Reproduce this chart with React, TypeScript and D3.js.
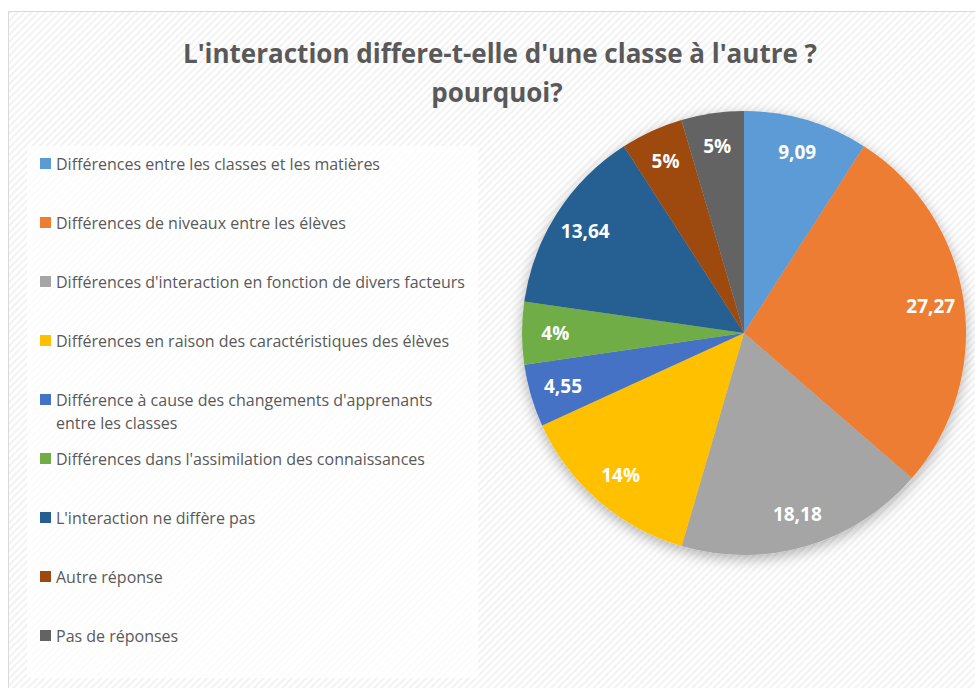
import React from "react";
import * as d3 from "d3";

const categories = [
  "Différences entre les classes et les matières",
  "Différences de niveaux entre les élèves",
  "Différences d'interaction en fonction de divers facteurs",
  "Différences en raison des caractéristiques des élèves",
  "Différence à cause des changements d'apprenants|entre les classes",
  "Différences dans l'assimilation des connaissances",
  "L'interaction ne diffère pas",
  "Autre réponse",
  "Pas de réponses",
];
const values = [9.09, 27.27, 18.18, 13.64, 4.55, 4.55, 13.64, 4.55, 4.55];
const labels = ["9,09", "27,27", "18,18", "14%", "4,55", "4%", "13,64", "5%", "5%"];
const colors = ["#5b9bd5", "#ed7d31", "#a5a5a5", "#ffc000", "#4472c4", "#70ad47", "#255e91", "#9e480e", "#636363"];

const W = 975;
const H = 688;
const font = "'Open Sans', sans-serif";

export default function App() {
  const cx = 744;
  const cy = 333;
  const r = 222;

  const pie = d3.pie<number>().sort(null).value((d) => d);
  const arcs = pie(values);
  const arc = d3.arc<d3.PieArcDatum<number>>().innerRadius(0).outerRadius(r);
  const labelArc = d3.arc<d3.PieArcDatum<number>>().innerRadius(r * 0.85).outerRadius(r * 0.85);

  // legend rows
  const legendY = d3.scaleLinear().domain([0, categories.length - 1]).range([164, 636]);

  return (
    <svg width={W} height={H} style={{ position: "absolute", left: 0, top: 0 }}>
      <defs>
        <pattern id="hatch" width="5" height="5" patternUnits="userSpaceOnUse" patternTransform="rotate(-45)">
          <rect width="5" height="5" fill="#ffffff" />
          <rect width="5" height="2" fill="#f2f2f2" />
        </pattern>
        <filter id="shadow" x="-20%" y="-20%" width="140%" height="140%">
          <feDropShadow dx="0" dy="4" stdDeviation="7" floodColor="#000" floodOpacity="0.3" />
        </filter>
      </defs>
      <rect x={0} y={0} width={W} height={H} fill="#fff" />
      <rect x={8.5} y={11.5} width={W} height={H} fill="url(#hatch)" stroke="#d9d9d9" />
      <rect x={27} y={146} width={451} height={532} fill="#ffffff" fillOpacity={0.75} />

      <text x={500} y={63} textAnchor="middle" fontFamily={font} fontWeight="bold" fontSize={26} fill="#595959">
        L'interaction differe-t-elle d'une classe à l'autre ?
      </text>
      <text x={497} y={102} textAnchor="middle" fontFamily={font} fontWeight="bold" fontSize={26} fill="#595959">
        pourquoi?
      </text>

      <g filter="url(#shadow)">
        <g transform={`translate(${cx},${cy})`}>
          {arcs.map((a, i) => (
            <path key={i} d={arc(a) || ""} fill={colors[i]} />
          ))}
        </g>
      </g>
      <g transform={`translate(${cx},${cy})`}>
        {arcs.map((a, i) => {
          const [x, y] = labelArc.centroid(a);
          return (
            <text key={i} x={x} y={y} dy="0.35em" textAnchor="middle" fontFamily={font} fontWeight="bold" fontSize={19} fill="#fff">
              {labels[i]}
            </text>
          );
        })}
      </g>

      <g fontFamily={font} fontSize={16} fill="#595959">
        {categories.map((c, i) => {
          const lines = c.split("|");
          const y = legendY(i);
          return (
            <g key={i}>
              <rect x={40} y={y - 6} width={11} height={11} fill={colors[i]} />
              {lines.map((l, j) => (
                <text key={j} x={56} y={y + j * 23} dy="0.35em">
                  {l}
                </text>
              ))}
            </g>
          );
        })}
      </g>
    </svg>
  );
}
